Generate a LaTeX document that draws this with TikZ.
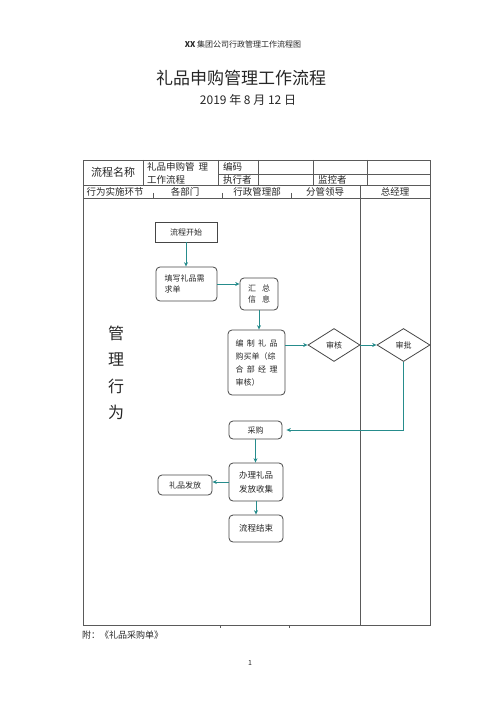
\documentclass[tikz,border=0pt]{standalone}
\usepackage{fontspec}
\setmainfont{Noto Sans CJK SC}
\usetikzlibrary{shapes.geometric,arrows.meta}
\definecolor{flowteal}{RGB}{38,140,140}
\definecolor{rim}{RGB}{70,70,70}
\definecolor{gridgray}{RGB}{90,90,90}

\begin{document}
\begin{tikzpicture}[x=1pt, y=-1pt,
every node/.style={inner sep=1pt, font=\fontsize{8}{11}\selectfont, text=black!85},
box/.style={draw=rim, line width=0.8pt},
rbox/.style={box, rounded corners=4pt},
dia/.style={box, diamond, inner sep=0pt},
flow/.style={draw=flowteal, line width=0.8pt, -{Stealth[length=4.5pt,width=4pt]}},
grid/.style={draw=gridgray, line width=0.6pt},
cell/.style={font=\fontsize{9.5}{11}\selectfont}
]
\useasboundingbox (0,0) rectangle (500,708);

% headings
\node (series) at (243,44) {\fontsize{8}{10}\selectfont\textbf{XX} 集团公司行政管理工作流程图};
\node (title) at (241,78) {\fontsize{17}{20}\selectfont 礼品申购管理工作流程};
\node (date) at (248,100) {\fontsize{12}{14}\selectfont 2019 年 8 月 12 日};

% table
\draw[grid] (83,160) rectangle (430,625);
\draw[grid] (218,174) -- (430,174);
\draw[grid] (83,185) -- (430,185) (83,198) -- (430,198);
\foreach \x in {143,218,258,313,367}
    \draw[grid] (\x,160) -- (\x,185);
\draw[grid] (360,185) -- (360,625);
\foreach \x in {153,222,291}
    \draw[grid] (\x,193) -- (\x,198);
\foreach \x in {220,289}
    \draw[grid] (\x,625) -- (\x,627.5);

\node (name) at (113,172.5) {\fontsize{11}{13}\selectfont 流程名称};
\node[cell, anchor=west] (proc1) at (146,167) {礼品申购管\hspace{4pt}理};
\node[cell, anchor=west] (proc2) at (146,179.5) {工作流程};
\node[cell, anchor=west] (code) at (222,167) {编码};
\node[cell, anchor=west] (exec) at (222,179.5) {执行者};
\node[cell, anchor=west] (watch) at (317,179.5) {监控者};
\node[cell] (stage) at (115,191.5) {行为实施环节};
\node[cell] (dept) at (185,191.5) {各部门};
\node[cell] (admin) at (257,191.5) {行政管理部};
\node[cell] (lead) at (325,191.5) {分管领导};
\node[cell] (boss) at (395,191.5) {总经理};

\node[align=center, font=\fontsize{16}{26.5}\selectfont] (act) at (116,373) {管\\理\\行\\为};

% flow
\node[box, minimum width=62pt, minimum height=20pt] (start) at (186,232) {流程开始};
\node[rbox, minimum width=61pt, minimum height=34pt, text width=44pt, align=left,
      font=\fontsize{8}{11.5}\selectfont] (fill) at (186.5,284) {填写礼品需\\求单};
\node[rbox, minimum width=38pt, minimum height=32pt, align=center,
      font=\fontsize{8}{11.5}\selectfont] (summ) at (259,294) {汇\hspace{6pt}总\\信\hspace{6pt}息};
\node[rbox, minimum width=57pt, minimum height=65pt, text width=42pt, align=left,
      font=\fontsize{8}{13}\selectfont] (draft) at (256.5,362.5)
      {\makebox[42pt][s]{编\hfill 制\hfill 礼\hfill 品}\\
       \makebox[42pt][s]{购买单（综}\\
       \makebox[42pt][s]{合\hfill 部\hfill 经\hfill 理}\\
       审核）};
\node[dia, minimum width=52pt, minimum height=33pt] (check) at (334,345) {审核};
\node[dia, minimum width=53pt, minimum height=33pt] (approve) at (403.5,345) {审批};
\node[rbox, minimum width=53pt, minimum height=18pt] (buy) at (255.5,430) {采购};
\node[rbox, minimum width=54pt, minimum height=38pt, align=center,
      font=\fontsize{8.5}{14}\selectfont] (handle) at (256,482) {办理礼品\\发放收集};
\node[rbox, minimum width=54pt, minimum height=20pt] (give) at (185,485) {礼品发放};
\node[rbox, minimum width=54pt, minimum height=27pt, font=\fontsize{8.5}{11}\selectfont] (finish) at (256,528.5) {流程结束};

\foreach \a/\b in {start/fill, summ/draft, buy/handle, handle/finish}
    \draw[flow] (\a.south) -- (\a.south |- \b.north);
\draw[flow] (fill.east) -- (fill.east -| summ.west);
\draw[flow] (check.west -| draft.east) -- (check.west);
\draw[flow] (check.east) -- (approve.west);
\draw[flow, shorten >=4pt] (approve.south) |- (buy.east);
\draw[flow] (handle.west) -- (handle.west -| give.east);

% footer
\node[anchor=west, font=\fontsize{9}{11}\selectfont] (annex) at (81,635) {附：《礼品采购单》};
\node (page) at (250,663) {\fontsize{7}{9}\selectfont 1};
\end{tikzpicture}
\end{document}
